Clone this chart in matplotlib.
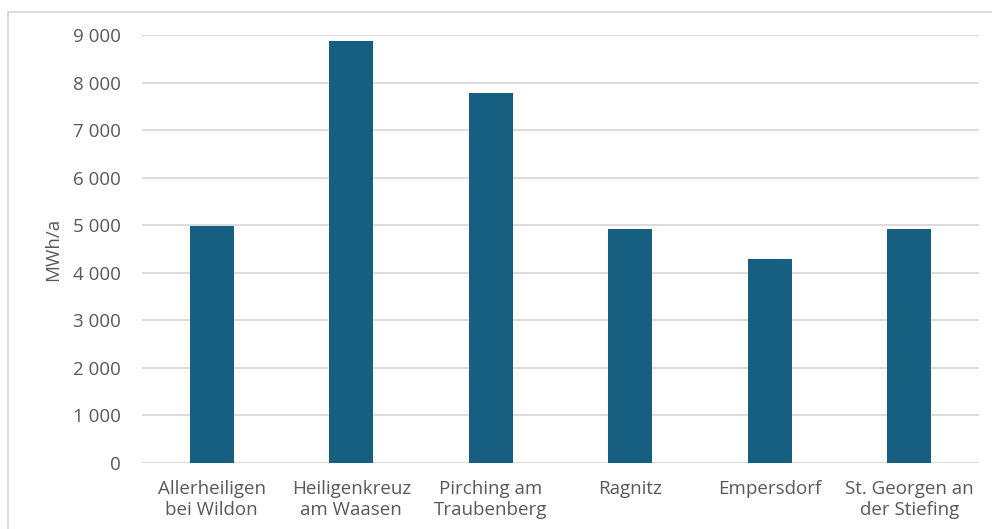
import matplotlib.pyplot as plt
from matplotlib.patches import Rectangle
from matplotlib.ticker import FuncFormatter

plt.rcParams['font.family'] = ['Open Sans', 'DejaVu Sans']

# Gemeinden und Werte (MWh/a)
gemeinden = ["Allerheiligen\nbei Wildon", "Heiligenkreuz\nam Waasen", "Pirching am\nTraubenberg",
             "Ragnitz", "Empersdorf", "St. Georgen an\nder Stiefing"]
werte = [4980, 8870, 7780, 4920, 4290, 4920]
yticks = [0, 1000, 2000, 3000, 4000, 5000, 6000, 7000, 8000, 9000]

grau = '#595959'
fig = plt.figure(figsize=(9.92, 5.29), dpi=100)
ax = fig.add_axes([142/992, (529-463)/529, (979-142)/992, (463-35)/529])

x = range(len(gemeinden))
ax.bar(x, werte, width=0.315, color='#175f80', zorder=3)
ax.set_xlim(-0.5, len(gemeinden)-0.5)
ax.set_ylim(0, 9000)
ax.set_yticks(yticks)
ax.yaxis.set_major_formatter(FuncFormatter(lambda v, p: f"{int(v):,}".replace(",", " ")))
ax.set_xticks(list(x))
ax.set_xticklabels(gemeinden, color=grau, fontsize=13.5, linespacing=1.25)
ax.tick_params(axis='y', colors=grau, labelsize=13.5, length=0, pad=15)
ax.tick_params(axis='x', length=0, pad=12)
ax.grid(axis='y', color='#d9d9d9', linewidth=1.3, zorder=0)
for s in ax.spines.values():
    s.set_visible(False)
ax.set_ylabel("MWh/a", color=grau, fontsize=13.5, labelpad=8)

# Rahmen des Diagrammbereichs
fig.patches.append(Rectangle((8/992, -0.05), 1.1, (529-12)/529+0.05, transform=fig.transFigure,
                             fill=False, edgecolor='#d9d9d9', linewidth=1.3))

fig.savefig("out.png", dpi=100)
